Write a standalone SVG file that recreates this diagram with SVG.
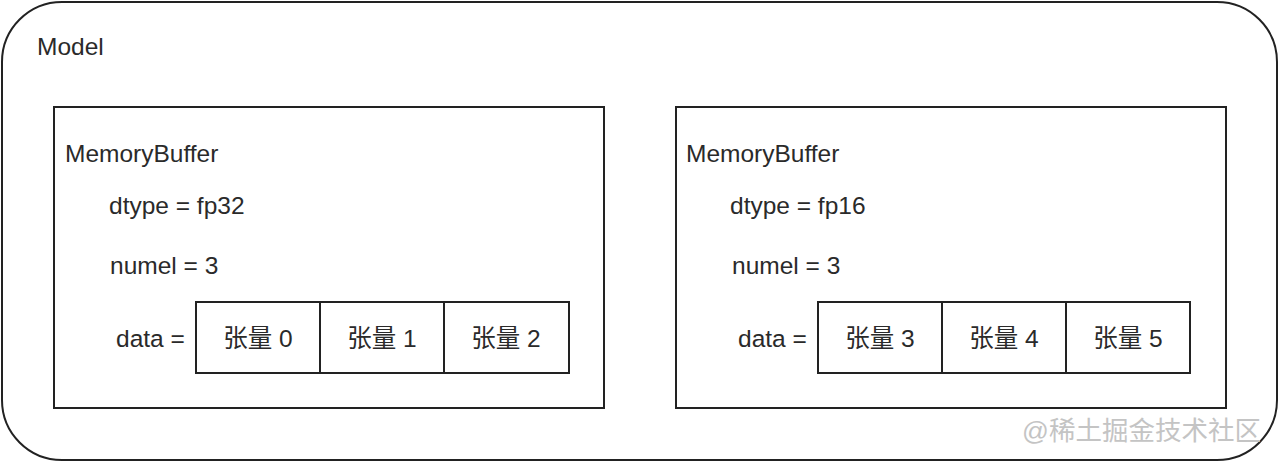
<svg xmlns="http://www.w3.org/2000/svg" width="1280" height="463" viewBox="0 0 1280 463">
<style>
.box{fill:#fff;stroke:#222;stroke-width:2}
.t{font-family:"Liberation Sans","Noto Sans CJK SC",sans-serif;font-size:24.5px;fill:#2a2a2a}
.c{text-anchor:middle}
.wm{font-family:"Liberation Sans","Noto Sans CJK SC",sans-serif;font-size:26.5px;fill:#c4c4c4}
</style>
<rect width="1280" height="463" fill="#fff"/>
<g id="model">
<rect class="box" x="2" y="2" width="1275" height="458" rx="60" ry="60"/>
<text class="t" x="37" y="55">Model</text>
</g>
<g id="buffer-left">
<rect class="box" x="54" y="107" width="550" height="301"/>
<text class="t" x="65" y="162">MemoryBuffer</text>
<text class="t" x="109" y="214">dtype = fp32</text>
<text class="t" x="110" y="274">numel = 3</text>
<text class="t" x="116" y="347">data =</text>
</g>
<g id="t0"><rect class="box" x="196" y="302" width="124" height="71"/><text class="t c" x="258" y="347">张量 0</text></g>
<g id="t1"><rect class="box" x="320" y="302" width="124" height="71"/><text class="t c" x="382" y="347">张量 1</text></g>
<g id="t2"><rect class="box" x="444" y="302" width="125" height="71"/><text class="t c" x="506" y="347">张量 2</text></g>
<g id="buffer-right">
<rect class="box" x="676" y="107" width="550" height="301"/>
<text class="t" x="686" y="162">MemoryBuffer</text>
<text class="t" x="730" y="214">dtype = fp16</text>
<text class="t" x="732" y="274">numel = 3</text>
<text class="t" x="738" y="347">data =</text>
</g>
<g id="t3"><rect class="box" x="818" y="302" width="124" height="71"/><text class="t c" x="880" y="347">张量 3</text></g>
<g id="t4"><rect class="box" x="942" y="302" width="124" height="71"/><text class="t c" x="1004" y="347">张量 4</text></g>
<g id="t5"><rect class="box" x="1066" y="302" width="124" height="71"/><text class="t c" x="1128" y="347">张量 5</text></g>
<g id="connectors"></g>
<text class="wm" x="1022" y="440">@稀土掘金技术社区</text>
</svg>
